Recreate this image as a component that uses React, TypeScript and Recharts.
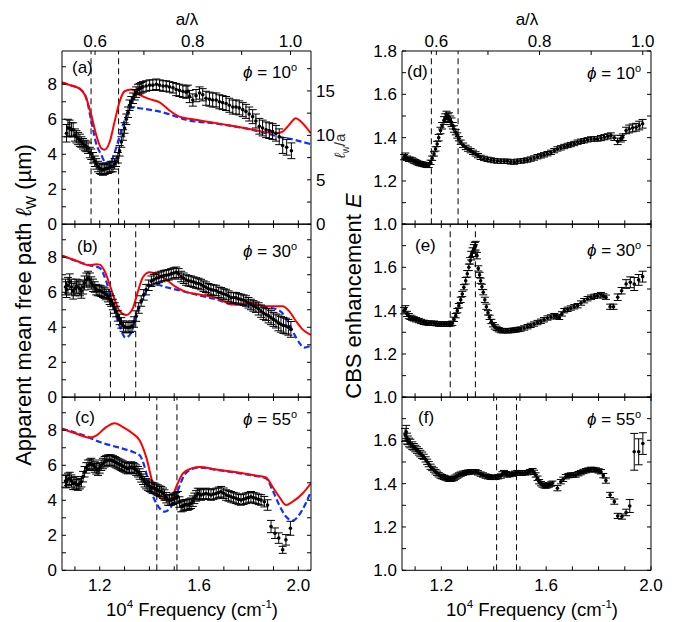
import React from 'react';
import { ComposedChart, Line, Scatter, ErrorBar, XAxis, YAxis, ReferenceLine } from 'recharts';

// [frequency (1e4 cm^-1), value, error]
type Pt = [number, number, number];
// [frequency, value]
type Pair = [number, number];

const LATTICE = 0.508; // a in um, so a/lambda = a * frequency

const freqTicks = [1.1, 1.2, 1.3, 1.4, 1.5, 1.6, 1.7, 1.8, 1.9, 2.0];
const freqLabels = [1.2, 1.6, 2.0];
const aLambdaTicks = [0.6, 0.7, 0.8, 0.9, 1.0];
const aLambdaLabels = [0.6, 0.8, 1.0];
const lwTicks = [0, 1, 2, 3, 4, 5, 6, 7, 8, 9];
const lwLabels = [0, 2, 4, 6, 8];
const lwaTicks = [0, 2.5, 5, 7.5, 10, 12.5, 15, 17.5];
const lwaLabels = [0, 5, 10, 15];
const eTicks = [1.0, 1.1, 1.2, 1.3, 1.4, 1.5, 1.6, 1.7, 1.8];
const eLabelsTop = [1.0, 1.2, 1.4, 1.6, 1.8];
const eLabels = [1.0, 1.2, 1.4, 1.6];

// ---- panel (a), phi = 10 deg ----
const ptsA: Pt[] = [
  [1.066,5.2,0.5],[1.072,5.5,0.5],[1.079,5.5,0.45],[1.086,5.4,0.4],[1.093,5.4,0.4],[1.100,5.1,0.35],[1.106,5.0,0.35],
  [1.113,4.9,0.35],[1.120,4.8,0.35],[1.126,4.7,0.3],[1.133,4.6,0.3],[1.140,4.5,0.3],[1.146,4.45,0.3],[1.153,4.35,0.3],
  [1.160,4.1,0.3],[1.166,4.0,0.3],[1.173,3.8,0.3],[1.180,3.6,0.3],[1.186,3.45,0.3],[1.193,3.3,0.3],[1.200,3.2,0.3],
  [1.206,3.15,0.3],[1.213,3.1,0.3],[1.220,3.15,0.3],[1.226,3.2,0.3],[1.233,3.2,0.3],[1.240,3.25,0.3],[1.246,3.3,0.3],
  [1.253,3.3,0.3],[1.260,3.45,0.3],[1.266,3.6,0.3],[1.273,3.8,0.3],[1.280,4.2,0.3],[1.287,4.7,0.3],[1.294,5.1,0.3],
  [1.300,5.5,0.3],[1.307,6.0,0.3],[1.314,6.4,0.3],[1.320,6.8,0.3],[1.327,7.0,0.3],[1.334,7.2,0.3],[1.341,7.4,0.3],
  [1.347,7.55,0.3],[1.354,7.7,0.3],[1.361,7.75,0.3],[1.367,7.8,0.3],[1.374,7.85,0.3],[1.387,7.9,0.3],[1.401,7.95,0.3],
  [1.414,7.95,0.3],[1.428,8.0,0.3],[1.441,7.95,0.3],[1.455,7.9,0.3],[1.468,7.9,0.3],[1.481,7.85,0.3],[1.495,7.8,0.3],
  [1.508,7.7,0.35],[1.521,7.65,0.35],[1.535,7.6,0.35],[1.548,7.55,0.35],[1.555,7.6,0.35],[1.562,7.3,0.35],[1.575,7.1,0.35],
  [1.588,7.35,0.35],[1.602,7.5,0.35],[1.615,7.4,0.35],[1.628,7.2,0.4],[1.642,7.15,0.4],[1.655,7.1,0.4],[1.669,7.1,0.4],
  [1.682,7.0,0.4],[1.695,6.95,0.4],[1.709,6.9,0.4],[1.722,6.8,0.4],[1.736,6.7,0.4],[1.749,6.7,0.4],[1.762,6.65,0.4],
  [1.776,6.55,0.4],[1.789,6.45,0.4],[1.802,6.3,0.4],[1.816,6.15,0.4],[1.829,5.9,0.4],[1.843,5.6,0.45],[1.856,5.5,0.45],
  [1.870,5.4,0.45],[1.883,5.35,0.45],[1.896,5.3,0.45],[1.910,5.2,0.45],[1.923,5.0,0.45],[1.937,4.5,0.45],[1.953,4.4,0.45],
  [1.972,4.2,0.45],
];
const redA: Pair[] = [
  [1.048,8.1],[1.08,7.95],[1.119,7.75],[1.146,7.2],[1.166,6.25],[1.186,5.1],[1.206,4.35],[1.220,4.26],[1.240,4.7],
  [1.260,5.87],[1.280,7.0],[1.300,7.6],[1.327,7.7],[1.361,7.4],[1.401,7.15],[1.441,6.97],[1.481,6.5],[1.521,6.15],
  [1.575,6.0],[1.669,5.78],[1.803,5.45],[1.910,5.2],[1.937,5.3],[1.963,5.68],[1.990,6.06],[2.010,5.87],[2.050,5.2],
];
const blueA: Pair[] = [
  [1.048,8.1],[1.08,7.95],[1.119,7.75],[1.146,7.2],[1.166,5.9],[1.186,4.6],[1.206,3.97],[1.226,3.45],[1.240,3.4],
  [1.253,3.8],[1.273,4.7],[1.294,5.68],[1.314,6.4],[1.327,6.67],[1.361,6.63],[1.468,6.34],[1.548,5.97],[1.669,5.75],
  [1.803,5.43],[1.870,5.2],[1.923,5.0],[1.977,4.85],[2.050,4.58],
];

// ---- panel (b), phi = 30 deg ----
const ptsB: Pt[] = [
  [1.062,6.3,0.45],[1.066,6.15,0.45],[1.072,6.4,0.45],[1.079,6.6,0.45],[1.086,6.3,0.45],[1.093,6.06,0.45],[1.100,6.2,0.4],
  [1.106,6.35,0.4],[1.113,6.3,0.4],[1.120,6.2,0.4],[1.126,6.06,0.4],[1.133,6.3,0.4],[1.139,6.53,0.4],[1.146,6.7,0.4],
  [1.153,6.8,0.4],[1.160,6.7,0.4],[1.166,6.53,0.35],[1.173,6.4,0.35],[1.180,6.3,0.3],[1.186,6.15,0.3],[1.193,6.1,0.3],
  [1.200,6.1,0.3],[1.206,6.06,0.3],[1.213,6.0,0.3],[1.220,5.95,0.3],[1.226,5.87,0.3],[1.233,5.75,0.3],[1.240,5.6,0.3],
  [1.246,5.5,0.3],[1.253,5.3,0.3],[1.260,5.1,0.3],[1.266,4.9,0.3],[1.273,4.65,0.3],[1.280,4.45,0.3],[1.287,4.25,0.3],
  [1.296,4.07,0.3],[1.305,4.0,0.3],[1.314,3.98,0.3],[1.322,4.0,0.3],[1.330,4.07,0.3],[1.338,4.3,0.3],[1.347,4.64,0.3],
  [1.357,5.1,0.3],[1.367,5.5,0.3],[1.377,5.85,0.3],[1.387,6.15,0.3],[1.397,6.4,0.3],[1.408,6.63,0.3],[1.418,6.72,0.3],
  [1.428,6.8,0.3],[1.438,6.85,0.3],[1.448,6.9,0.3],[1.458,6.95,0.3],[1.468,6.97,0.3],[1.478,7.0,0.3],[1.488,7.05,0.3],
  [1.498,7.1,0.3],[1.508,7.14,0.3],[1.518,7.05,0.3],[1.528,6.9,0.3],[1.538,6.8,0.3],[1.548,6.7,0.3],[1.558,6.65,0.3],
  [1.568,6.63,0.3],[1.578,6.58,0.3],[1.588,6.53,0.3],[1.598,6.5,0.3],[1.608,6.44,0.3],[1.618,6.35,0.3],[1.628,6.29,0.3],
  [1.638,6.2,0.3],[1.648,6.15,0.3],[1.658,6.12,0.3],[1.669,6.1,0.3],[1.679,6.0,0.3],[1.689,5.97,0.3],[1.699,5.9,0.3],
  [1.709,5.87,0.3],[1.719,5.78,0.3],[1.729,5.68,0.3],[1.739,5.7,0.3],[1.749,5.68,0.3],[1.759,5.62,0.3],[1.769,5.59,0.3],
  [1.779,5.55,0.3],[1.789,5.5,0.3],[1.799,5.4,0.3],[1.809,5.3,0.3],[1.819,5.22,0.3],[1.829,5.15,0.3],[1.840,5.05,0.35],
  [1.850,4.92,0.35],[1.860,4.8,0.35],[1.870,4.73,0.35],[1.880,4.65,0.4],[1.890,4.55,0.4],[1.900,4.45,0.4],[1.910,4.36,0.4],
  [1.920,4.25,0.45],[1.930,4.17,0.45],[1.940,4.1,0.45],[1.950,4.07,0.45],[1.960,4.0,0.45],[1.970,3.88,0.45],
];
const redB: Pair[] = [
  [1.048,8.09],[1.106,7.8],[1.159,7.54],[1.186,7.6],[1.200,7.58],[1.220,7.2],[1.240,6.44],[1.260,5.59],[1.280,4.92],
  [1.307,4.7],[1.334,5.11],[1.354,6.06],[1.374,6.86],[1.401,7.14],[1.428,7.05],[1.468,6.72],[1.508,6.29],[1.548,6.02],
  [1.602,5.87],[1.669,5.68],[1.736,5.3],[1.803,5.4],[1.870,5.2],[1.937,5.2],[1.963,4.92],[1.990,4.36],[2.017,3.88],
  [2.050,3.56],
];
const blueB: Pair[] = [
  [1.048,8.09],[1.159,7.54],[1.200,7.39],[1.226,6.63],[1.253,5.3],[1.280,4.07],[1.304,3.41],[1.327,3.69],[1.347,4.73],
  [1.374,5.68],[1.401,6.34],[1.428,6.44],[1.468,6.29],[1.535,6.06],[1.602,5.81],[1.669,5.6],[1.736,5.3],[1.803,5.3],
  [1.870,5.15],[1.923,4.96],[1.950,4.55],[1.977,3.79],[2.003,3.13],[2.023,2.84],[2.050,2.94],
];

// ---- panel (c), phi = 55 deg ----
const ptsC: Pt[] = [
  [1.062,5.1,0.35],[1.066,5.06,0.35],[1.072,5.2,0.35],[1.079,5.25,0.35],[1.086,5.1,0.35],[1.093,4.96,0.35],[1.100,5.0,0.35],
  [1.106,4.9,0.3],[1.113,4.87,0.3],[1.120,4.95,0.3],[1.126,5.06,0.3],[1.133,5.35,0.3],[1.139,5.63,0.3],[1.146,5.85,0.3],
  [1.153,6.0,0.3],[1.160,6.05,0.3],[1.166,6.1,0.3],[1.173,6.0,0.3],[1.180,5.9,0.3],[1.186,5.8,0.3],[1.193,5.72,0.3],
  [1.200,5.85,0.3],[1.206,6.0,0.3],[1.213,6.1,0.3],[1.220,6.2,0.3],[1.226,6.25,0.3],[1.233,6.29,0.3],[1.240,6.3,0.3],
  [1.246,6.29,0.3],[1.253,6.25,0.3],[1.260,6.2,0.3],[1.266,6.15,0.3],[1.273,6.1,0.3],[1.280,6.05,0.3],[1.287,6.0,0.3],
  [1.293,5.95,0.3],[1.300,5.9,0.3],[1.307,5.85,0.3],[1.314,5.81,0.3],[1.320,5.85,0.3],[1.327,5.9,0.3],[1.334,5.85,0.3],
  [1.340,5.81,0.3],[1.347,5.72,0.3],[1.354,5.63,0.3],[1.361,5.5,0.3],[1.367,5.34,0.3],[1.374,5.2,0.3],[1.381,5.06,0.3],
  [1.387,4.95,0.3],[1.394,4.87,0.3],[1.401,4.8,0.3],[1.408,4.73,0.3],[1.414,4.7,0.3],[1.421,4.68,0.3],[1.428,4.62,0.3],
  [1.434,4.58,0.3],[1.441,4.52,0.3],[1.448,4.49,0.3],[1.455,4.4,0.3],[1.461,4.3,0.3],[1.468,4.15,0.3],[1.475,4.02,0.3],
  [1.481,4.0,0.3],[1.488,4.02,0.3],[1.495,4.06,0.3],[1.501,4.11,0.3],[1.508,4.15,0.3],[1.515,4.2,0.3],[1.521,3.9,0.3],
  [1.528,3.64,0.3],[1.535,3.68,0.3],[1.541,3.73,0.3],[1.548,3.75,0.3],[1.555,3.73,0.3],[1.561,3.78,0.3],[1.568,3.83,0.3],
  [1.575,3.95,0.3],[1.581,4.11,0.3],[1.588,4.25,0.3],[1.595,4.39,0.3],[1.602,4.35,0.3],[1.608,4.3,0.3],[1.618,4.35,0.3],
  [1.628,4.39,0.3],[1.638,4.35,0.3],[1.648,4.3,0.3],[1.658,4.35,0.3],[1.669,4.39,0.3],[1.679,4.45,0.3],[1.689,4.49,0.3],
  [1.699,4.4,0.3],[1.709,4.3,0.3],[1.719,4.25,0.3],[1.729,4.2,0.3],[1.739,4.15,0.3],[1.749,4.11,0.3],[1.759,4.05,0.3],
  [1.769,4.02,0.3],[1.779,4.06,0.3],[1.789,4.11,0.3],[1.799,4.15,0.3],[1.809,4.2,0.3],[1.819,4.15,0.3],[1.829,4.11,0.3],
  [1.840,4.05,0.3],[1.850,4.02,0.3],[1.863,3.92,0.3],[1.876,3.73,0.3],[1.890,2.5,0.35],[1.906,2.12,0.3],[1.921,1.84,0.3],
  [1.937,1.17,0.2],[1.950,1.74,0.3],[1.968,2.4,0.4],
];
const redC: Pair[] = [
  [1.048,8.09],[1.106,7.8],[1.159,7.58],[1.186,7.7],[1.226,8.18],[1.260,8.4],[1.294,8.18],[1.334,7.8],[1.361,7.42],
  [1.387,6.48],[1.414,4.96],[1.434,4.3],[1.461,4.02],[1.488,4.11],[1.508,4.77],[1.535,5.53],[1.568,5.81],[1.602,5.9],
  [1.669,5.76],[1.736,5.63],[1.816,5.44],[1.870,5.3],[1.896,4.77],[1.923,4.2],[1.950,3.73],[1.977,3.92],[2.017,4.39],
  [2.050,4.96],
];
const blueC: Pair[] = [
  [1.048,8.09],[1.159,7.58],[1.200,7.33],[1.267,7.05],[1.334,6.76],[1.361,6.57],[1.381,5.9],[1.401,4.77],[1.428,3.83],
  [1.461,3.35],[1.488,3.64],[1.515,4.58],[1.541,5.44],[1.575,5.81],[1.602,5.87],[1.669,5.74],[1.736,5.6],[1.816,5.42],
  [1.870,5.25],[1.896,4.58],[1.923,3.73],[1.950,3.07],[1.977,2.84],[2.003,3.16],[2.030,3.83],[2.050,4.49],
];

// ---- panel (d), CBS enhancement, phi = 10 deg ----
const ptsD: Pt[] = [
  [1.058,1.31,0.012],[1.063,1.317,0.012],[1.069,1.305,0.01],[1.076,1.30,0.01],[1.082,1.30,0.01],[1.089,1.297,0.01],
  [1.095,1.292,0.01],[1.101,1.289,0.01],[1.108,1.285,0.01],[1.114,1.281,0.01],[1.120,1.28,0.01],[1.127,1.278,0.01],
  [1.133,1.276,0.01],[1.140,1.274,0.01],[1.146,1.272,0.01],[1.152,1.272,0.01],[1.159,1.286,0.01],[1.165,1.305,0.01],
  [1.172,1.325,0.01],[1.178,1.348,0.01],[1.184,1.371,0.012],[1.190,1.40,0.015],[1.197,1.433,0.015],[1.203,1.455,0.015],
  [1.210,1.479,0.018],[1.215,1.49,0.02],[1.220,1.502,0.02],[1.225,1.49,0.02],[1.229,1.495,0.02],[1.234,1.48,0.02],
  [1.239,1.471,0.02],[1.244,1.455,0.015],[1.248,1.44,0.015],[1.255,1.425,0.012],[1.261,1.41,0.012],[1.267,1.395,0.01],
  [1.274,1.379,0.01],[1.283,1.365,0.01],[1.293,1.355,0.01],[1.302,1.347,0.01],[1.312,1.34,0.01],[1.321,1.332,0.01],
  [1.331,1.325,0.01],[1.340,1.317,0.01],[1.350,1.309,0.01],[1.363,1.304,0.01],[1.376,1.30,0.01],[1.389,1.297,0.01],
  [1.401,1.294,0.01],[1.414,1.292,0.01],[1.427,1.291,0.01],[1.440,1.291,0.01],[1.452,1.291,0.01],[1.465,1.288,0.01],
  [1.478,1.287,0.01],[1.490,1.291,0.01],[1.503,1.292,0.01],[1.516,1.294,0.01],[1.528,1.297,0.01],[1.541,1.301,0.01],
  [1.554,1.306,0.01],[1.567,1.312,0.01],[1.580,1.316,0.01],[1.592,1.321,0.01],[1.605,1.326,0.01],[1.618,1.332,0.01],
  [1.631,1.34,0.01],[1.643,1.348,0.01],[1.656,1.353,0.01],[1.669,1.359,0.01],[1.682,1.364,0.01],[1.694,1.368,0.01],
  [1.707,1.373,0.01],[1.720,1.379,0.01],[1.733,1.383,0.01],[1.745,1.386,0.01],[1.758,1.39,0.01],[1.771,1.394,0.01],
  [1.784,1.394,0.01],[1.796,1.394,0.01],[1.809,1.398,0.012],[1.822,1.402,0.012],[1.835,1.406,0.012],[1.847,1.41,0.012],
  [1.860,1.399,0.012],[1.873,1.383,0.015],[1.885,1.395,0.015],[1.892,1.402,0.015],[1.905,1.433,0.015],[1.917,1.44,0.018],
  [1.930,1.445,0.018],[1.943,1.448,0.018],[1.955,1.456,0.02],[1.968,1.464,0.02],
];

// ---- panel (e), phi = 30 deg ----
const ptsE: Pt[] = [
  [1.058,1.40,0.015],[1.063,1.408,0.015],[1.069,1.385,0.012],[1.076,1.375,0.012],[1.082,1.369,0.01],[1.089,1.365,0.01],
  [1.095,1.362,0.01],[1.104,1.358,0.01],[1.114,1.354,0.01],[1.123,1.35,0.01],[1.133,1.346,0.01],[1.142,1.344,0.01],
  [1.152,1.342,0.01],[1.162,1.342,0.01],[1.172,1.342,0.01],[1.181,1.34,0.01],[1.191,1.338,0.01],[1.200,1.338,0.01],
  [1.210,1.338,0.01],[1.219,1.338,0.01],[1.229,1.338,0.01],[1.236,1.339,0.01],[1.242,1.342,0.01],[1.248,1.36,0.01],
  [1.255,1.377,0.01],[1.261,1.40,0.01],[1.267,1.423,0.01],[1.274,1.45,0.012],[1.280,1.477,0.012],[1.286,1.508,0.012],
  [1.293,1.538,0.015],[1.299,1.57,0.015],[1.305,1.60,0.015],[1.310,1.63,0.015],[1.314,1.654,0.02],[1.319,1.67,0.02],
  [1.324,1.685,0.02],[1.328,1.695,0.02],[1.331,1.70,0.02],[1.336,1.654,0.015],[1.341,1.595,0.012],[1.346,1.565,0.012],
  [1.350,1.538,0.012],[1.355,1.51,0.012],[1.360,1.485,0.012],[1.366,1.45,0.012],[1.372,1.418,0.012],[1.378,1.39,0.01],
  [1.384,1.369,0.01],[1.391,1.35,0.01],[1.397,1.335,0.01],[1.404,1.325,0.01],[1.411,1.318,0.01],[1.419,1.312,0.01],
  [1.427,1.308,0.01],[1.436,1.307,0.01],[1.446,1.308,0.01],[1.455,1.307,0.01],[1.465,1.308,0.01],[1.475,1.31,0.01],
  [1.484,1.311,0.01],[1.494,1.313,0.01],[1.503,1.315,0.01],[1.516,1.32,0.01],[1.529,1.326,0.01],[1.541,1.332,0.01],
  [1.554,1.338,0.01],[1.567,1.345,0.01],[1.580,1.351,0.01],[1.592,1.358,0.01],[1.605,1.366,0.01],[1.618,1.371,0.01],
  [1.631,1.377,0.01],[1.641,1.373,0.01],[1.650,1.369,0.01],[1.660,1.385,0.01],[1.669,1.40,0.01],[1.682,1.406,0.01],
  [1.694,1.412,0.01],[1.707,1.418,0.01],[1.720,1.423,0.01],[1.733,1.435,0.01],[1.745,1.446,0.01],[1.758,1.455,0.01],
  [1.771,1.462,0.01],[1.784,1.466,0.01],[1.796,1.469,0.01],[1.809,1.474,0.01],[1.818,1.468,0.01],[1.828,1.462,0.01],
  [1.844,1.418,0.012],[1.857,1.418,0.012],[1.873,1.462,0.015],[1.888,1.492,0.015],[1.905,1.523,0.02],[1.921,1.531,0.025],
  [1.936,1.523,0.03],[1.953,1.542,0.025],[1.968,1.557,0.025],
];

// ---- panel (f), phi = 55 deg ----
const ptsF: Pt[] = [
  [1.062,1.625,0.03],[1.066,1.639,0.03],[1.069,1.608,0.025],[1.072,1.60,0.02],[1.077,1.59,0.02],[1.082,1.585,0.02],
  [1.089,1.575,0.018],[1.095,1.57,0.015],[1.101,1.562,0.015],[1.107,1.555,0.015],[1.114,1.547,0.015],[1.120,1.539,0.015],
  [1.127,1.531,0.015],[1.133,1.524,0.012],[1.140,1.512,0.012],[1.146,1.501,0.012],[1.152,1.49,0.012],[1.159,1.478,0.012],
  [1.165,1.47,0.01],[1.172,1.463,0.01],[1.178,1.455,0.01],[1.184,1.448,0.01],[1.190,1.441,0.01],[1.197,1.435,0.01],
  [1.203,1.432,0.01],[1.210,1.429,0.01],[1.216,1.426,0.01],[1.223,1.423,0.01],[1.229,1.421,0.01],[1.235,1.42,0.01],
  [1.242,1.422,0.01],[1.248,1.425,0.01],[1.254,1.43,0.01],[1.261,1.435,0.01],[1.267,1.44,0.01],[1.274,1.444,0.01],
  [1.283,1.448,0.01],[1.293,1.451,0.01],[1.302,1.453,0.01],[1.312,1.455,0.01],[1.321,1.455,0.01],[1.331,1.455,0.01],
  [1.340,1.45,0.01],[1.350,1.444,0.01],[1.359,1.44,0.01],[1.369,1.435,0.01],[1.378,1.432,0.01],[1.388,1.429,0.01],
  [1.397,1.429,0.01],[1.407,1.429,0.01],[1.417,1.432,0.01],[1.427,1.435,0.01],[1.433,1.445,0.01],[1.439,1.451,0.01],
  [1.446,1.446,0.01],[1.452,1.44,0.01],[1.461,1.442,0.01],[1.471,1.444,0.01],[1.481,1.448,0.01],[1.490,1.451,0.01],
  [1.500,1.449,0.01],[1.509,1.448,0.01],[1.519,1.45,0.01],[1.529,1.451,0.01],[1.538,1.455,0.01],[1.548,1.46,0.01],
  [1.554,1.452,0.01],[1.560,1.44,0.01],[1.567,1.425,0.01],[1.573,1.409,0.01],[1.580,1.40,0.01],[1.586,1.394,0.01],
  [1.593,1.39,0.01],[1.599,1.389,0.01],[1.605,1.391,0.01],[1.611,1.394,0.01],[1.618,1.398,0.01],[1.624,1.402,0.01],
  [1.643,1.379,0.012],[1.656,1.409,0.01],[1.665,1.42,0.01],[1.675,1.432,0.01],[1.685,1.437,0.01],[1.694,1.44,0.01],
  [1.704,1.44,0.01],[1.713,1.44,0.01],[1.723,1.446,0.01],[1.732,1.451,0.01],[1.742,1.456,0.01],[1.752,1.46,0.01],
  [1.761,1.463,0.01],[1.771,1.466,0.01],[1.781,1.465,0.01],[1.790,1.463,0.01],[1.800,1.459,0.01],[1.809,1.455,0.01],
  [1.818,1.437,0.01],[1.828,1.414,0.012],[1.844,1.348,0.012],[1.860,1.317,0.012],[1.873,1.251,0.012],[1.889,1.248,0.012],
  [1.905,1.267,0.015],[1.919,1.297,0.03],[1.936,1.547,0.085],[1.953,1.547,0.06],[1.969,1.585,0.05],
];

// band-edge markers (dashed verticals), per panel
const edgesA = [1.165, 1.276];
const edgesB = [1.243, 1.345];
const edgesC = [1.43, 1.511];
const edgesD = [1.162, 1.264];
const edgesE = [1.234, 1.33];
const edgesF = [1.411, 1.487];

const FONT = "'Liberation Sans', Arial, Helvetica, sans-serif";
const PLOT_W = 249;
const PLOT_H = 173.3;
const AX_L = 50;
const AX_R = 40;
const AX_T = 45;
const AX_B = 40;
const LEFT_X = 62.3;
const RIGHT_X = 401.7;
const ROW_Y = [50.7, 224.0, 397.3];

const tickStyle = { fill: '#000', fontSize: 17, fontFamily: FONT };

const labelIf = (labels: number[], digits: number) => (v: number) =>
  labels.some((l) => Math.abs(l - v) < 1e-6) ? v.toFixed(digits) : '';

const aLambdaFmt = (v: number) => {
  const t = v * LATTICE;
  return aLambdaLabels.some((l) => Math.abs(l - t) < 1e-6) ? t.toFixed(1) : '';
};

const blank = () => '';

const Dot = (p: any) => <circle cx={p.cx} cy={p.cy} r={1.8} fill="#000" />;

interface PanelCfg {
  left: number;
  top: number;
  xDomain: [number, number];
  yDomain: [number, number];
  yTicks: number[];
  yLabels: number[];
  yDigits: number;
  points: Pt[];
  red?: Pair[];
  blue?: Pair[];
  edges: number[];
  showBottom?: boolean;
  showTop?: boolean;
  lwa?: boolean;
}

const Panel = ({ cfg }: { cfg: PanelCfg }) => {
  const pts = cfg.points.map(([f, v, e]) => ({ f, v, e }));
  const red = cfg.red ? cfg.red.map(([f, v]) => ({ f, v })) : null;
  const blue = cfg.blue ? cfg.blue.map(([f, v]) => ({ f, v })) : null;
  const topTicks = cfg.showTop ? aLambdaTicks.map((t) => t / LATTICE) : freqTicks;

  return (
    <div style={{ position: 'absolute', left: cfg.left - AX_L, top: cfg.top - AX_T }}>
      <ComposedChart
        width={AX_L + PLOT_W + AX_R}
        height={AX_T + PLOT_H + AX_B}
        margin={{ top: 0, right: 0, bottom: 0, left: 0 }}
      >
        <XAxis
          xAxisId="b"
          dataKey="f"
          type="number"
          orientation="bottom"
          domain={cfg.xDomain}
          allowDataOverflow
          ticks={freqTicks}
          interval={0}
          tickFormatter={cfg.showBottom ? labelIf(freqLabels, 1) : blank}
          height={AX_B}
          tickSize={-4}
          tickMargin={13}
          stroke="#000"
          tick={tickStyle}
        />
        <XAxis
          xAxisId="t"
          dataKey="f"
          type="number"
          orientation="top"
          domain={cfg.xDomain}
          allowDataOverflow
          ticks={topTicks}
          interval={0}
          tickFormatter={cfg.showTop ? aLambdaFmt : blank}
          height={AX_T}
          tickSize={-4}
          tickMargin={8}
          stroke="#000"
          tick={tickStyle}
        />
        <YAxis
          yAxisId="l"
          type="number"
          orientation="left"
          domain={cfg.yDomain}
          allowDataOverflow
          ticks={cfg.yTicks}
          interval={0}
          tickFormatter={labelIf(cfg.yLabels, cfg.yDigits)}
          width={AX_L}
          tickSize={-4}
          tickMargin={9}
          stroke="#000"
          tick={tickStyle}
        />
        {cfg.lwa ? (
          <YAxis
            yAxisId="r"
            type="number"
            orientation="right"
            domain={[0, cfg.yDomain[1] / LATTICE]}
            allowDataOverflow
            ticks={lwaTicks}
            interval={0}
            tickFormatter={labelIf(lwaLabels, 0)}
            width={AX_R}
            tickSize={-4}
            tickMargin={9}
            stroke="#000"
            tick={tickStyle}
          />
        ) : (
          <YAxis
            yAxisId="r"
            type="number"
            orientation="right"
            domain={cfg.yDomain}
            allowDataOverflow
            ticks={cfg.yTicks}
            interval={0}
            tickFormatter={blank}
            width={AX_R}
            tickSize={-4}
            tickMargin={9}
            stroke="#000"
            tick={tickStyle}
          />
        )}
        {cfg.edges.map((x) => (
          <ReferenceLine
            key={x}
            x={x}
            xAxisId="b"
            yAxisId="l"
            stroke="#000"
            strokeWidth={1}
            strokeDasharray="6 4"
          />
        ))}
        {blue && (
          <Line
            data={blue}
            dataKey="v"
            xAxisId="b"
            yAxisId="l"
            type="monotone"
            stroke="#1030ff"
            strokeWidth={2.2}
            strokeDasharray="6 3"
            dot={false}
            isAnimationActive={false}
          />
        )}
        {red && (
          <Line
            data={red}
            dataKey="v"
            xAxisId="b"
            yAxisId="l"
            type="monotone"
            stroke="#ff0000"
            strokeWidth={2}
            dot={false}
            isAnimationActive={false}
          />
        )}
        <Scatter data={pts} dataKey="v" xAxisId="b" yAxisId="l" shape={Dot} isAnimationActive={false}>
          <ErrorBar dataKey="e" direction="y" width={4} stroke="#000" strokeWidth={1} />
        </Scatter>
      </ComposedChart>
    </div>
  );
};

const leftCommon = {
  left: LEFT_X,
  xDomain: [1.048, 2.051] as [number, number],
  yDomain: [0, 9.9] as [number, number],
  yTicks: lwTicks,
  yLabels: lwLabels,
  yDigits: 0,
};
const rightCommon = {
  left: RIGHT_X,
  xDomain: [1.05, 2.0] as [number, number],
  yDomain: [1.0, 1.8] as [number, number],
  yTicks: eTicks,
  yDigits: 1,
};

const panels: PanelCfg[] = [
  { ...leftCommon, top: ROW_Y[0], points: ptsA, red: redA, blue: blueA, edges: edgesA, showTop: true, lwa: true },
  { ...leftCommon, top: ROW_Y[1], points: ptsB, red: redB, blue: blueB, edges: edgesB },
  { ...leftCommon, top: ROW_Y[2], points: ptsC, red: redC, blue: blueC, edges: edgesC, showBottom: true },
  { ...rightCommon, top: ROW_Y[0], yLabels: eLabelsTop, points: ptsD, edges: edgesD, showTop: true },
  { ...rightCommon, top: ROW_Y[1], yLabels: eLabels, points: ptsE, edges: edgesE },
  { ...rightCommon, top: ROW_Y[2], yLabels: eLabels, points: ptsF, edges: edgesF, showBottom: true },
];

const tags = [
  { t: '(a)', x: 72, y: 73 },
  { t: '(b)', x: 77, y: 252 },
  { t: '(c)', x: 75, y: 423 },
  { t: '(d)', x: 407, y: 77 },
  { t: '(e)', x: 415, y: 251 },
  { t: '(f)', x: 418, y: 423 },
];
const phis = [
  { deg: '10', x: 297, y: 78 },
  { deg: '30', x: 297, y: 257 },
  { deg: '55', x: 297, y: 425 },
  { deg: '10', x: 641, y: 79 },
  { deg: '30', x: 641, y: 256 },
  { deg: '55', x: 641, y: 425 },
];

const FreqTitle = ({ x }: { x: number }) => (
  <text x={x} y={616} fontSize={18.5} textAnchor="middle">
    10<tspan dy={-8} fontSize={11.5}>4</tspan>
    <tspan dy={8}> Frequency (cm</tspan>
    <tspan dy={-8} fontSize={11.5}>-1</tspan>
    <tspan dy={8}>)</tspan>
  </text>
);

export default function App() {
  return (
    <div
      style={{
        position: 'absolute',
        left: 0,
        top: 0,
        width: 676,
        height: 622,
        overflow: 'hidden',
        background: '#fff',
        fontFamily: FONT,
      }}
    >
      {panels.map((p, i) => (
        <Panel key={i} cfg={p} />
      ))}
      <svg
        width={676}
        height={622}
        style={{ position: 'absolute', left: 0, top: 0, pointerEvents: 'none' }}
        fontFamily={FONT}
        fill="#000"
      >
        <text x={187} y={25} fontSize={17} textAnchor="middle">a/λ</text>
        <text x={527} y={25} fontSize={17} textAnchor="middle">a/λ</text>
        <FreqTitle x={192} />
        <FreqTitle x={532} />
        <text transform="translate(31,305) rotate(-90)" fontSize={22} textAnchor="middle">
          Apparent mean free path{'  '}
          <tspan fontStyle="italic">ℓ</tspan>
          <tspan dy={5} fontSize={14}>W</tspan>
          <tspan dy={-5}> (µm)</tspan>
        </text>
        <text transform="translate(361,296) rotate(-90)" fontSize={22} textAnchor="middle">
          CBS enhancement <tspan fontStyle="italic">E</tspan>
        </text>
        <text transform="translate(345,146) rotate(-90)" fontSize={15} textAnchor="middle" fill="#333">
          <tspan fontStyle="italic">ℓ</tspan>
          <tspan dy={4} fontSize={10}>w</tspan>
          <tspan dy={-4}>/a</tspan>
        </text>
        {tags.map((g) => (
          <text key={g.t} x={g.x} y={g.y} fontSize={17}>{g.t}</text>
        ))}
        {phis.map((p, i) => (
          <text key={i} x={p.x} y={p.y} fontSize={17} textAnchor="end">
            <tspan fontStyle="italic">ϕ</tspan> = {p.deg}
            <tspan dy={-7} fontSize={11}>o</tspan>
          </text>
        ))}
      </svg>
    </div>
  );
}
